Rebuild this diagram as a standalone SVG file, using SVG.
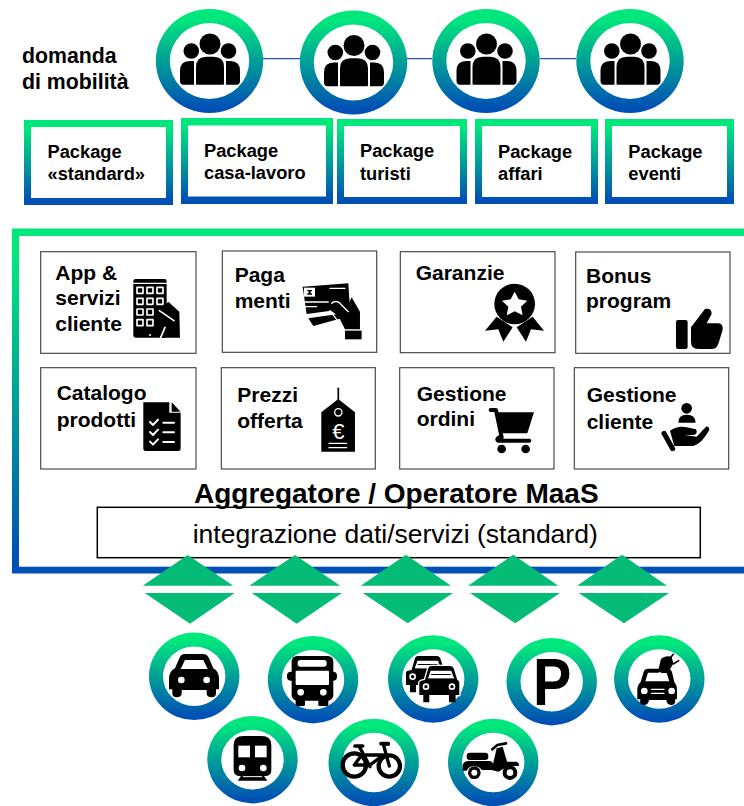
<svg xmlns="http://www.w3.org/2000/svg" xmlns:xlink="http://www.w3.org/1999/xlink" width="744" height="806" viewBox="0 0 744 806">
<style>
text{font-family:"Liberation Sans",Arial,sans-serif;fill:#000}
.b{font-weight:700}
.pk{font-size:18.3px;font-weight:700}
.bx{font-size:21px;font-weight:700}
.card{fill:#fff;stroke:#3c3c3c;stroke-width:1.1}
.in{fill:#fff}
.tri{fill:#05BC76}
.link{stroke:#2a4fb0;stroke-width:1.3;fill:none}
.ws{fill:none;stroke:#fff;stroke-linecap:round;stroke-linejoin:round}
.bs{fill:none;stroke:#000;stroke-linecap:round;stroke-linejoin:round}
.w{fill:#fff}
</style>
<defs>
<linearGradient id="g" x1="0" y1="0" x2="0" y2="1"><stop offset="0.09" stop-color="#00E87C"/><stop offset="0.95" stop-color="#0050B5"/></linearGradient>
<g id="people">
<circle cx="0.5" cy="-17" r="10.500"/><circle cx="-18.200" cy="-10" r="7.800"/><circle cx="19" cy="-10" r="7.800"/>
<path d="M-13.500 22.700V6Q-13.500-4.300-3-4.300H4Q14.500-4.300 14.500 6V22.700q0 1-1 1H-12.500q-1 0-1-1Z"/>
<path d="M-15.500 0H-20Q-29.500 0-29.500 10V20Q-29.500 23.700-26 23.700H-15.500Z"/>
<path d="M16.500 0H21Q30.500 0 30.500 10V20Q30.500 23.700 27 23.700H16.500Z"/>
</g>
<g id="tcar">
<path d="M885 390L895 355Q897 348 905 348H960Q968 348 971 355L982 390Q988 392 988 398V435H868V398Q868 392 885 390Z"/>
<path d="M880 435h18v22h-18zM957 435h20v22h-20z"/>
<path class="w" d="M895 385L902 362H964L972 385Z"/>
<path d="M904 372H962L966 385H900Z"/>
<path class="w" d="M898 375H968L971 385H895Z"/>
<circle class="w" cx="888" cy="410" r="10"/><circle cx="888" cy="410" r="5"/>
<circle class="w" cx="966" cy="410" r="10"/><circle cx="966" cy="410" r="5"/>
</g>
</defs>

<g id="connectors">
<path class="link" d="M263 58.700H300M407 58.700H432M540 58.700H576"/>
</g>

<g id="label-domanda"><text class="b" font-size="21.300" x="22" y="63.300">domanda</text><text class="b" font-size="21.300" x="22" y="89">di mobilità</text></g>

<g id="demand-1"><ellipse cx="209.500" cy="61" rx="53.700" ry="52" fill="url(#g)"/><ellipse class="in" cx="209.500" cy="61" rx="39.700" ry="38"/><use xlink:href="#people" href="#people" x="209.500" y="61"/></g>
<g id="demand-2"><ellipse cx="353.500" cy="62.500" rx="53.700" ry="52" fill="url(#g)"/><ellipse class="in" cx="353.500" cy="62.500" rx="39.700" ry="38"/><use xlink:href="#people" href="#people" x="353.500" y="62.500"/></g>
<g id="demand-3"><ellipse cx="486" cy="61" rx="53.700" ry="52" fill="url(#g)"/><ellipse class="in" cx="486" cy="61" rx="39.700" ry="38"/><use xlink:href="#people" href="#people" x="486" y="61"/></g>
<g id="demand-4"><ellipse cx="630" cy="61" rx="53.700" ry="52" fill="url(#g)"/><ellipse class="in" cx="630" cy="61" rx="39.700" ry="38"/><use xlink:href="#people" href="#people" x="630" y="61"/></g>

<g id="package-standard"><rect x="24" y="120" width="149" height="85" fill="url(#g)"/><rect class="in" x="31" y="127" width="135" height="71"/><text class="pk" x="47.500" y="157.700">Package</text><text class="pk" x="47.500" y="180.300">«standard»</text></g>
<g id="package-casa"><rect x="181" y="118" width="152" height="86" fill="url(#g)"/><rect class="in" x="188" y="125.500" width="138" height="71"/><text class="pk" x="204" y="156.700">Package</text><text class="pk" x="204" y="179">casa-lavoro</text></g>
<g id="package-turisti"><rect x="337" y="119" width="130" height="85" fill="url(#g)"/><rect class="in" x="344" y="126" width="116" height="71"/><text class="pk" x="360" y="157">Package</text><text class="pk" x="360" y="180">turisti</text></g>
<g id="package-affari"><rect x="475" y="119" width="123" height="85" fill="url(#g)"/><rect class="in" x="482" y="126" width="109" height="71"/><text class="pk" x="498" y="157.700">Package</text><text class="pk" x="498" y="180">affari</text></g>
<g id="package-eventi"><rect x="605" y="119" width="129" height="85" fill="url(#g)"/><rect class="in" x="612" y="126" width="115" height="71"/><text class="pk" x="628.300" y="157.700">Package</text><text class="pk" x="628.300" y="180">eventi</text></g>

<g id="aggregatore-frame"><rect x="12" y="228.500" width="760" height="345" fill="url(#g)"/><rect class="in" x="19" y="236" width="760" height="330.700"/></g>

<g id="app"><rect class="card" x="40.700" y="251.700" width="155.300" height="101.600"/><text class="bx" x="55.300" y="280">App &amp;</text><text class="bx" x="55.300" y="305">servizi</text><text class="bx" x="55.300" y="330.700">cliente</text>
<g transform="translate(30 240) scale(.3333)">
<rect x="310" y="117" width="100" height="176" rx="7"/>
<path class="ws" stroke-width="4" d="M310 130H410"/>
<path class="ws" stroke-width="5" d="M321 142h18v18h-18zM351 142h18v18h-18zM381 142h18v18h-18zM321 175h18v18h-18zM351 175h18v18h-18zM381 175h18v18h-18zM321 207h18v18h-18zM351 207h18v18h-18zM321 239h18v18h-18zM351 239h18v18h-18z"/>
<circle class="w" cx="360" cy="285" r="3"/>
<path d="M415 185L448 215L450 293H392L402 262L380 220L395 205Z"/>
<path class="ws" stroke-width="5" d="M388 212L432 242M405 262L392 293"/>
</g></g>

<g id="pagamenti"><rect class="card" x="222.300" y="251" width="154.400" height="101.300"/><text class="bx" x="234.700" y="281.700">Paga</text><text class="bx" x="234.700" y="308.300">menti</text>
<g transform="translate(30 240) scale(.3333)">
<path d="M818 140L955 130L960 205L830 222Z"/>
<path d="M835 235L925 222L935 235L850 258Z"/>
<path d="M905 190Q915 178 930 185L950 205L965 172L990 215V268H945L925 228L900 210Z"/>
<rect x="945" y="272" width="50" height="26"/>
<rect class="w" x="822" y="143" width="33" height="27"/>
<path d="M832 150h14v4h-4v6h4v4h-14v-4h4v-6h-4z"/>
<path class="ws" stroke-width="4" d="M900 145H945M825 186H895M825 200H860"/>
<path class="ws" stroke-width="4" d="M905 190Q915 180 928 188L955 215M900 212L940 265"/>
</g></g>

<g id="garanzie"><rect class="card" x="400.300" y="251.700" width="154.700" height="101"/><text class="bx" x="415.700" y="280">Garanzie</text>
<g transform="translate(390 240) scale(.3333)">
<circle cx="374" cy="192" r="61"/>
<path class="w" d="M374 155L386 178L412 182L393 200L398 226L374 214L350 226L355 200L336 182L362 178Z"/>
<path d="M285 272L320 230L368 262L340 305L325 268Z"/>
<path d="M462 272L428 230L380 262L408 305L423 268Z"/>
</g></g>

<g id="bonus"><rect class="card" x="575.700" y="252" width="154.300" height="101.300"/><text class="bx" x="586" y="282.700">Bonus</text><text class="bx" x="586" y="308.300">program</text>
<g transform="translate(390 240) scale(.3333)">
<rect x="858" y="240" width="35" height="87" rx="6"/>
<path d="M903 262L945 207Q965 202 965 222L950 250H985Q1000 250 998 270L985 312Q980 327 965 327H925Q903 327 903 305Z"/>
</g></g>

<g id="catalogo"><rect class="card" x="40.700" y="367.700" width="155.300" height="101.300"/><text class="bx" x="56.700" y="400">Catalogo</text><text class="bx" x="56.700" y="426.700">prodotti</text>
<g transform="translate(30 240) scale(.3333)">
<path d="M340 487H418V518H452V625Q452 633 445 633H347Q340 633 340 625Z"/>
<path d="M425 487L452 515H425Z"/>
<path class="ws" stroke-width="6" d="M360 546L369 555L384 539M360 576L369 585L384 569M360 605L369 614L384 598M400 548H432M400 577H432M400 606H432"/>
</g></g>

<g id="prezzi"><rect class="card" x="221.300" y="367.700" width="154" height="101.300"/><text class="bx" x="237.300" y="401.700">Prezzi</text><text class="bx" x="237.300" y="428.300">offerta</text>
<g transform="translate(30 240) scale(.3333)">
<path class="bs" stroke-width="5" d="M925 445V490"/>
<path d="M925 477L975 517V635H874V517Z"/>
<circle cx="925" cy="517" r="11" fill="none" stroke="#fff" stroke-width="4"/>
<text x="925" y="597" font-size="66" text-anchor="middle" style="fill:#fff">€</text>
<path class="ws" stroke-width="4" d="M897 610H950M897 623H950"/>
</g></g>

<g id="ordini"><rect class="card" x="399.700" y="367.700" width="154.300" height="101.300"/><text class="bx" x="416.700" y="400.700">Gestione</text><text class="bx" x="416.700" y="425.700">ordini</text>
<g transform="translate(390 240) scale(.3333)">
<path class="bs" stroke-width="12" d="M302 510H318L335 592H327Q318 598 325 602H418"/>
<path d="M315 517H432L412 580H328Z"/>
<circle cx="335" cy="627" r="13"/><circle cx="407" cy="627" r="13"/>
</g></g>

<g id="cliente"><rect class="card" x="574.300" y="367.700" width="154.400" height="101.300"/><text class="bx" x="586.700" y="402.300">Gestione</text><text class="bx" x="586.700" y="429">cliente</text>
<g transform="translate(390 240) scale(.3333)">
<circle cx="890" cy="505" r="16"/>
<path d="M865 548Q865 524 890 524Q917 524 917 548Z"/>
<path class="bs" stroke-width="15" d="M822 580L848 626"/>
<path d="M840 572Q865 555 890 562L918 568Q925 580 912 585H885L920 590L948 560Q958 558 958 570Q935 612 910 618H865L853 618Z"/>
</g></g>

<g id="integrazione"><rect x="97.300" y="507.300" width="603" height="50.400" fill="#fff" stroke="#000" stroke-width="1.500"/><text font-size="26.500" x="192.700" y="542.700">integrazione dati/servizi (standard)</text></g>
<g id="aggregatore-title"><text class="b" font-size="28" x="194" y="503.300">Aggregatore / Operatore MaaS</text></g>

<g id="flows">
<path class="tri" d="M187.700 555L233.300 585.700H142.700ZM144.700 593H234.700L190 623.700Z"/>
<path class="tri" d="M295 555L340.300 585.700H249.300ZM251.700 593H342L296.700 623.700Z"/>
<path class="tri" d="M406 554.700L451 585.700H360.700ZM362.700 593H453L407.700 623.300Z"/>
<path class="tri" d="M513.300 554.700L558.300 585.700H468ZM470 593H560L515.300 623.300Z"/>
<path class="tri" d="M622 554.700L667 585.700H577ZM578.700 593H669L624 623.300Z"/>
</g>

<g id="mode-auto"><ellipse cx="194.200" cy="676.300" rx="45.200" ry="43.700" fill="url(#g)"/><ellipse class="in" cx="194.200" cy="676.300" rx="31.200" ry="29.700"/>
<g transform="translate(130 550) scale(.3333)">
<path d="M165 312H218Q232 312 237 325L250 355Q267 365 267 385V418H258V430Q258 442 245 442Q230 442 230 430V420H155V430Q155 442 140 442Q127 442 127 430V418H117V385Q117 365 135 355L148 325Q152 312 165 312Z"/>
<path class="w" d="M165 330H220L233 357H152Z"/>
<circle class="w" cx="154" cy="390" r="10"/><circle class="w" cx="230" cy="390" r="10"/>
</g></g>

<g id="mode-bus"><ellipse cx="313" cy="679.700" rx="45.200" ry="43.700" fill="url(#g)"/><ellipse class="in" cx="313" cy="679.700" rx="31.200" ry="29.700"/>
<g transform="translate(130 550) scale(.3333)">
<rect x="485" y="318" width="125" height="134" rx="16"/>
<rect x="471" y="365" width="150" height="27" rx="12"/>
<rect x="497" y="440" width="28" height="28" rx="4"/><rect x="565" y="440" width="30" height="28" rx="4"/>
<rect class="w" x="503" y="330" width="87" height="20" rx="8"/>
<rect class="w" x="497" y="362" width="100" height="43" rx="3"/>
<circle class="w" cx="512" cy="427" r="10"/><circle class="w" cx="580" cy="427" r="10"/>
</g></g>

<g id="mode-traffico"><ellipse cx="433.200" cy="679" rx="45.200" ry="43.700" fill="url(#g)"/><ellipse class="in" cx="433.200" cy="679" rx="31.200" ry="29.700"/>
<g transform="translate(130 550) scale(.3333)">
<use xlink:href="#tcar" href="#tcar" x="-40" y="-30"/>
<path class="w" stroke="#fff" stroke-width="8" d="M885 390L895 355Q897 348 905 348H960Q968 348 971 355L982 390Q988 392 988 398V435H868V398Q868 392 885 390Z"/>
<use xlink:href="#tcar" href="#tcar"/>
</g></g>

<g id="mode-parcheggio"><ellipse cx="551.700" cy="681.700" rx="45.200" ry="43.700" fill="url(#g)"/><ellipse class="in" cx="551.700" cy="681.700" rx="31.200" ry="29.700"/><text class="b" font-size="66" transform="translate(533 705.300) scale(.87 1)">P</text></g>

<g id="mode-elettrico"><ellipse cx="659.300" cy="679" rx="45.200" ry="43.700" fill="url(#g)"/><ellipse class="in" cx="659.300" cy="679" rx="31.200" ry="29.700"/>
<g transform="translate(440 550) scale(.3333)">
<path d="M625 356H680Q692 356 696 366L703 396Q711 405 711 420V448H705Q708 465 695 465Q680 465 679 450H627Q626 465 611 465Q598 465 601 448H592V420Q592 405 602 396L611 366Q614 356 625 356Z"/>
<path class="w" d="M624 368H680L688 394H616Z"/>
<circle class="w" cx="613" cy="423" r="10"/><circle class="w" cx="695" cy="423" r="10"/>
<path class="ws" stroke-width="4" d="M635 418H672M635 430H672"/>
<path d="M655 362L662 330Q672 315 695 320L700 340L685 368Q665 372 655 362Z"/>
<path class="bs" stroke-width="5" d="M690 325L700 313M700 342L716 332"/>
<path class="ws" stroke-width="4" d="M660 368Q648 375 643 392"/>
</g></g>

<g id="mode-treno"><ellipse cx="252.500" cy="759.700" rx="45.200" ry="43.700" fill="url(#g)"/><ellipse class="in" cx="252.500" cy="759.700" rx="31.200" ry="29.700"/>
<g transform="translate(130 550) scale(.3333)">
<path d="M340 558H395Q424 558 424 585V660Q424 678 405 678H330Q311 678 311 660V585Q311 558 340 558Z"/>
<path d="M335 675H400L412 692H323Z"/>
<rect class="w" x="325" y="587" width="35" height="35"/><rect class="w" x="375" y="587" width="35" height="35"/>
<circle class="w" cx="336" cy="654" r="10"/><circle class="w" cx="400" cy="654" r="10"/>
<path class="ws" stroke-width="3" d="M340 680H395"/>
</g></g>

<g id="mode-bici"><ellipse cx="373.700" cy="762.500" rx="45.200" ry="43.700" fill="url(#g)"/><ellipse class="in" cx="373.700" cy="762.500" rx="31.200" ry="29.700"/>
<g transform="translate(320 630) scale(.3333)">
<circle cx="103" cy="405" r="35" fill="none" stroke="#000" stroke-width="13"/>
<circle cx="208" cy="408" r="32" fill="none" stroke="#000" stroke-width="13"/>
<path class="bs" stroke-width="10" d="M103 405H150L190 375H125L103 405M118 350L150 410M190 342L208 408M190 342H205"/>
<path class="bs" stroke-width="11" d="M105 348H128M183 341H205"/>
</g></g>

<g id="mode-scooter"><ellipse cx="493.200" cy="762.500" rx="45.200" ry="43.700" fill="url(#g)"/><ellipse class="in" cx="493.200" cy="762.500" rx="31.200" ry="29.700"/>
<g transform="translate(320 630) scale(.3333)">
<rect x="440" y="368" width="65" height="22" rx="10"/>
<path d="M428 405Q432 393 445 393H510Q522 395 525 420H485Q480 410 462 408Q445 410 440 422H428Z"/>
<path d="M515 420L530 355L548 350L565 408L535 425Z"/>
<path d="M555 395H590Q598 398 597 408H550Z"/>
<path class="bs" stroke-width="8" d="M517 358L532 345L558 340"/>
<circle cx="463" cy="428" r="19"/><circle class="w" cx="463" cy="428" r="9"/>
<circle cx="570" cy="428" r="22"/><circle class="w" cx="570" cy="428" r="10"/>
</g></g>
</svg>
